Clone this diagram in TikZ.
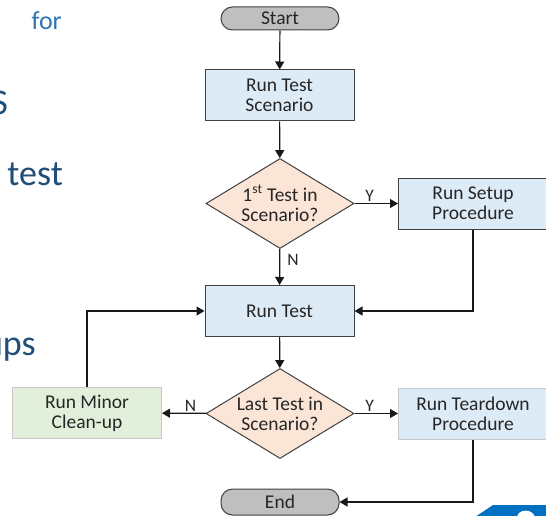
\documentclass[tikz,border=0pt]{standalone}
\usepackage{fontspec}
\setmainfont{Carlito}
\usetikzlibrary{shapes.geometric,arrows.meta}

\definecolor{procblue}{HTML}{DDEBF7}
\definecolor{peach}{HTML}{FBE5D6}
\definecolor{mint}{HTML}{E2EFDA}
\definecolor{pillgray}{HTML}{BFBFBF}
\definecolor{darkline}{HTML}{404040}
\definecolor{softline}{HTML}{C8C8C8}
\definecolor{txt}{HTML}{262626}
\definecolor{slideblue}{HTML}{1F4E79}
\definecolor{slidelight}{HTML}{2E75B6}
\definecolor{logoblue}{HTML}{0070C0}

\tikzset{
  boxtext/.style={font=\fontsize{19.5}{20}\selectfont, text=txt, align=center},
  procbox/.style={rectangle, boxtext, draw=darkline, line width=1pt, fill=procblue,
    minimum width=149pt, minimum height=51pt, inner sep=0pt},
  softbox/.style={procbox, draw=softline},
  decision/.style={diamond, draw=darkline, line width=1pt, fill=peach,
    minimum width=148pt, minimum height=90pt, inner sep=0pt},
  terminal/.style={rectangle, rounded corners=11.5pt, draw=darkline, line width=1pt,
    fill=pillgray, minimum width=118pt, inner sep=0pt,
    font=\fontsize{19.5}{20}\selectfont, text=txt},
  flow/.style={draw=black!90, line width=1.2pt, -{Triangle[length=8pt,width=9pt]}},
  branch/.style={font=\fontsize{17.5}{19}\selectfont, text=txt, inner sep=1pt},
  slidetext/.style={font=\fontsize{36}{40}\selectfont, text=slideblue, inner sep=0pt, anchor=base east},
}

\begin{document}
\begin{tikzpicture}[x=1pt,y=-1pt]
\useasboundingbox (0,0) rectangle (546,516);
\clip (0,0) rectangle (546,516);

% slide text running behind the chart
\node[slidetext, font=\fontsize{26}{30}\selectfont, text=slidelight] (wfor) at (62,30) {for};
\node[slidetext] (wS) at (8,115) {S};
\node[slidetext] (wtest) at (63,185) {test};
\node[slidetext] (wups) at (36,355) {ups};

% corner logo
\fill[logoblue] (475,517) -- (493,505) -- (547,505) -- (547,517) -- cycle;
\fill[white] (517,517) .. controls (518,509) and (532,508) .. (535,517) -- cycle;

% flowchart nodes
\node[terminal, minimum height=23pt] (start) at (280,18.5) {Start};
\node[procbox] (scen) at (279.5,95.5) {Run Test\\Scenario};
\node[decision, label={[boxtext]center:{1\textsuperscript{st} Test in\\Scenario?}}] (d1) at (280,203.5) {};
\node[procbox] (setup) at (473,203.5) {Run Setup\\Procedure};
\node[procbox] (rtest) at (279.5,311) {Run Test};
\node[decision, label={[boxtext]center:{Last Test in\\Scenario?}}] (d2) at (280,413.5) {};
\node[softbox] (tear) at (473,413.5) {Run Teardown\\Procedure};
\node[softbox, fill=mint] (clean) at (87,413) {Run Minor\\Clean-up};
\node[terminal, minimum height=26pt] (endn) at (280,502) {End};

% connectors
\draw[flow] (start) -- (scen);
\draw[flow] (scen) -- (d1);
\draw[flow] (d1) -- node[branch, above, pos=0.35] (y1) {Y} (setup);
\draw[flow] (d1) -- node[branch, right, pos=0.3, xshift=6pt] (n1) {N} (rtest);
\draw[flow] (setup.south) |- (rtest.east);
\draw[flow] (rtest) -- (d2);
\draw[flow] (d2) -- node[branch, above, pos=0.35] (y2) {Y} (tear);
\draw[flow] (d2) -- node[branch, above, pos=0.35] (n2) {N} (clean);
\draw[flow] (clean.north) |- (rtest.west);
\draw[flow] (tear.south) |- (endn.east);
\end{tikzpicture}
\end{document}
